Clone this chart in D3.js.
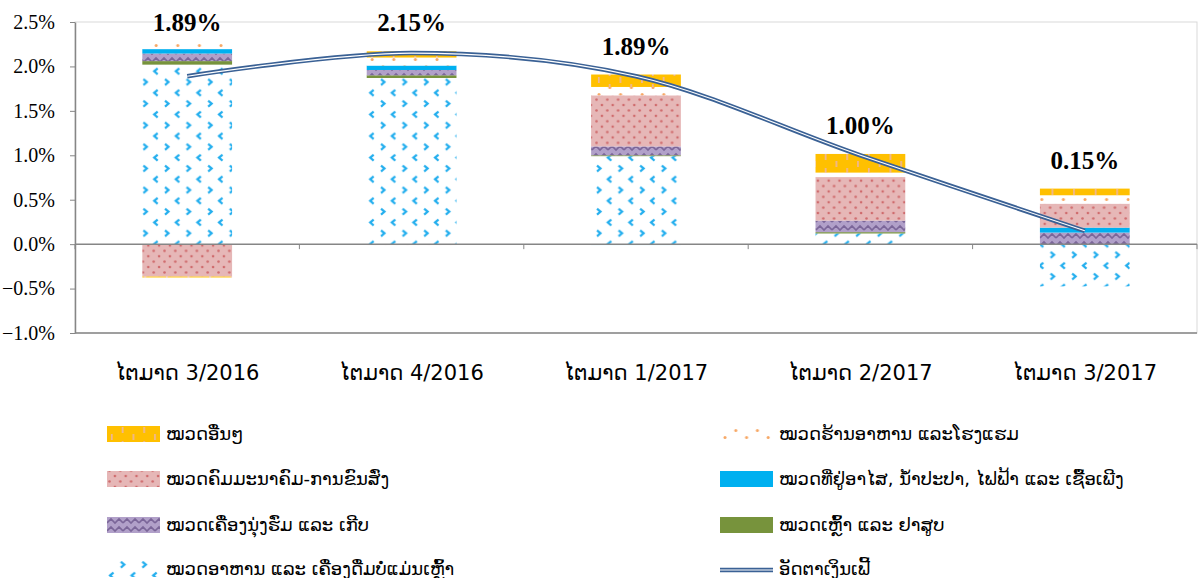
<!DOCTYPE html>
<html>
<head>
<meta charset="utf-8">
<script src="https://cdn.jsdelivr.net/npm/d3@7/dist/d3.min.js"></script>
<style>
body { margin: 0; background: #fff; }
svg { display: block; }
</style>
</head>
<body>
<script>
// ຂໍ້ມູນ (%), ອ່ານຈາກຮູບ
var quarters = ["ໄຕມາດ 3/2016", "ໄຕມາດ 4/2016", "ໄຕມາດ 1/2017", "ໄຕມາດ 2/2017", "ໄຕມາດ 3/2017"];
var food = [2.02, 1.87, 0.99, 0.12, -0.475];
var alcohol = [0.04, 0.03, 0.01, 0.015, 0.0];
var clothing = [0.085, 0.06, 0.10, 0.13, 0.13];
var housing = [0.05, 0.05, -0.01, 0.0, 0.056];
var transport = [-0.365, -0.01, 0.575, 0.49, 0.27];
var restaurants = [0.09, 0.09, 0.094, 0.05, 0.094];
var others = [-0.01, 0.07, 0.14, 0.21, 0.075];
var inflation = [1.89, 2.15, 1.89, 1.00, 0.15];
var yTicks = [-1.0, -0.5, 0.0, 0.5, 1.0, 1.5, 2.0, 2.5];

var seriesKeys = ["food", "alcohol", "clothing", "housing", "transport", "restaurants", "others"];
var seriesNames = {
	food: "ໝວດອາຫານ ແລະ ເຄື່ອງດື່ມບໍ່ແມ່ນເຫຼົ້າ",
	alcohol: "ໝວດເຫຼົ້າ ແລະ ຢາສູບ",
	clothing: "ໝວດເຄື່ອງນຸ່ງຮົ່ມ ແລະ ເກີບ",
	housing: "ໝວດທີ່ຢູ່ອາໄສ, ນ້ຳປະປາ, ໄຟຟ້າ ແລະ ເຊື້ອເພີງ",
	transport: "ໝວດຄົມມະນາຄົມ-ການຂົນສົ່ງ",
	restaurants: "ໝວດຮ້ານອາຫານ ແລະໂຮງແຮມ",
	others: "ໝວດອື່ນໆ"
};
var lineName = "ອັດຕາເງິນເຟີ້";
var series = { food: food, alcohol: alcohol, clothing: clothing, housing: housing,
	transport: transport, restaurants: restaurants, others: others };

var laoFont = "'DejaVu Sans', sans-serif";
var numFont = "'Liberation Serif', 'Times New Roman', serif";

var width = 1199, height = 578;
var plot = { left: 75, right: 1197, top: 22, bottom: 333 };

var svg = d3.select("body").append("svg")
	.attr("width", width)
	.attr("height", height);
svg.append("rect").attr("width", width).attr("height", height).attr("fill", "#fff");

// ລາຍແພັດເທີນ ຄືໃນ Excel
var defs = svg.append("defs");
function pattern(id, w, h, bg) {
	var p = defs.append("pattern").attr("id", id)
		.attr("patternUnits", "userSpaceOnUse")
		.attr("width", w).attr("height", h);
	p.append("rect").attr("width", w).attr("height", h).attr("fill", bg);
	return p;
}
var pFood = pattern("p-food", 21.6, 21.6, "#fff");
pFood.append("path").attr("d", "M6.5,3.5 L3,6.5 L6.5,9.5").attr("fill", "none")
	.attr("stroke", "#22AEEE").attr("stroke-width", 2.2);
pFood.append("path").attr("d", "M13.8,14.3 L17.3,17.3 L13.8,20.3").attr("fill", "none")
	.attr("stroke", "#22AEEE").attr("stroke-width", 2.2);

var pCloth = pattern("p-cloth", 16, 8, "#B1A0C9");
pCloth.append("path").attr("d", "M0,6 L4,2 L8,6 L12,2 L16,6").attr("fill", "none")
	.attr("stroke", "#7B6699").attr("stroke-width", 1.6);

var pTrans = pattern("p-trans", 10.8, 10.8, "#E6B7B7");
pTrans.append("circle").attr("cx", 2.5).attr("cy", 2.5).attr("r", 1.3).attr("fill", "#CF6A6C");
pTrans.append("circle").attr("cx", 7.9).attr("cy", 7.9).attr("r", 1.3).attr("fill", "#CF6A6C");

var pRest = pattern("p-rest", 21.6, 14, "#fff");
pRest.append("circle").attr("cx", 5).attr("cy", 3.5).attr("r", 1.5).attr("fill", "#F7A764");
pRest.append("circle").attr("cx", 15.8).attr("cy", 10.5).attr("r", 1.5).attr("fill", "#F7A764");

var pOther = pattern("p-other", 21.6, 14, "#FFC000");
pOther.append("rect").attr("x", 4).attr("y", 0).attr("width", 1.6).attr("height", 6).attr("fill", "#EDB5A4");
pOther.append("rect").attr("x", 14.8).attr("y", 7).attr("width", 1.6).attr("height", 6).attr("fill", "#EDB5A4");

var fills = {
	food: "url(#p-food)",
	alcohol: "#77933C",
	clothing: "url(#p-cloth)",
	housing: "#00B0F0",
	transport: "url(#p-trans)",
	restaurants: "url(#p-rest)",
	others: "url(#p-other)"
};

var x = d3.scaleBand().domain(quarters)
	.range([plot.left, plot.right])
	.paddingInner(0.6).paddingOuter(0.3);
var y = d3.scaleLinear().domain([-1, 2.5]).range([plot.bottom, plot.top]);

// ກອບຂອງພື້ນທີ່ກຣາຟ
svg.append("rect")
	.attr("x", plot.left).attr("y", plot.top)
	.attr("width", plot.right - plot.left).attr("height", plot.bottom - plot.top)
	.attr("fill", "none").attr("stroke", "#D9D9D9");

var yAxis = svg.append("g")
	.attr("transform", "translate(" + plot.left + ",0)")
	.call(d3.axisLeft(y).tickValues(yTicks).tickSize(5).tickSizeOuter(0)
		.tickFormat(function(d) { return d3.format(".1f")(d) + "%"; }));
yAxis.select(".domain").attr("stroke", "#868686").attr("stroke-width", 1.5);
yAxis.selectAll(".tick line").attr("stroke", "#868686");
yAxis.selectAll(".tick text").attr("x", -20)
	.style("font-family", numFont).style("font-size", "20px").attr("fill", "#000");
svg.append("line")
	.attr("x1", plot.left).attr("x2", plot.right)
	.attr("y1", plot.bottom).attr("y2", plot.bottom)
	.attr("stroke", "#868686").attr("stroke-width", 1.5);

// ແທ່ງ stacked (ບວກ ແລະ ລົບ ແຍກກັນ)
var rows = quarters.map(function(q, i) {
	var r = { q: q };
	seriesKeys.forEach(function(k) { r[k] = series[k][i]; });
	return r;
});
var stacked = d3.stack().keys(seriesKeys).offset(d3.stackOffsetDiverging)(rows);

svg.append("g").selectAll("g").data(stacked).enter().append("g")
	.attr("fill", function(s) { return fills[s.key]; })
	.selectAll("rect").data(function(s) { return s; }).enter().append("rect")
	.attr("x", function(d) { return x(d.data.q); })
	.attr("width", x.bandwidth())
	.attr("y", function(d) { return y(Math.max(d[0], d[1])); })
	.attr("height", function(d) { return Math.abs(y(d[0]) - y(d[1])); });

// ແກນ x ຢູ່ທີ່ 0
svg.append("line")
	.attr("x1", plot.left).attr("x2", plot.right)
	.attr("y1", y(0)).attr("y2", y(0))
	.attr("stroke", "#868686").attr("stroke-width", 1.5);
svg.append("g").selectAll("line").data(d3.range(quarters.length + 1)).enter().append("line")
	.attr("x1", function(i) { return plot.left + i * x.step(); })
	.attr("x2", function(i) { return plot.left + i * x.step(); })
	.attr("y1", y(0)).attr("y2", y(0) + 5)
	.attr("stroke", "#868686");

svg.append("g").selectAll("text").data(quarters).enter().append("text")
	.attr("x", function(q) { return x(q) + x.bandwidth() / 2; })
	.attr("y", 380)
	.attr("text-anchor", "middle")
	.style("font-family", laoFont).style("font-size", "21px")
	.text(function(q) { return q; });

// ເສັ້ນອັດຕາເງິນເຟີ້ (ເສັ້ນຄູ່)
var line = d3.line()
	.x(function(d, i) { return x(quarters[i]) + x.bandwidth() / 2; })
	.y(function(d) { return y(d); })
	.curve(d3.curveCardinal.tension(0));
svg.append("path").datum(inflation).attr("d", line)
	.attr("fill", "none").attr("stroke", "#3A6195").attr("stroke-width", 4.5);
svg.append("path").datum(inflation).attr("d", line)
	.attr("fill", "none").attr("stroke", "#fff").attr("stroke-width", 1.1);

// ປ້າຍຄ່າ
var tops = rows.map(function(r) {
	return d3.sum(seriesKeys, function(k) { return Math.max(0, r[k]); });
});
svg.append("g").selectAll("text").data(inflation).enter().append("text")
	.attr("x", function(d, i) { return x(quarters[i]) + x.bandwidth() / 2; })
	.attr("y", function(d, i) { return Math.max(31, y(Math.max(tops[i], d)) - 20); })
	.attr("text-anchor", "middle")
	.style("font-family", numFont).style("font-size", "25px").style("font-weight", "bold")
	.text(function(d) { return d3.format(".2f")(d) + "%"; });

// ຄຳອະທິບາຍ
var legendItems = [
	{ key: "others", col: 0, row: 0 },
	{ key: "restaurants", col: 1, row: 0 },
	{ key: "transport", col: 0, row: 1 },
	{ key: "housing", col: 1, row: 1 },
	{ key: "clothing", col: 0, row: 2 },
	{ key: "alcohol", col: 1, row: 2 },
	{ key: "food", col: 0, row: 3 },
	{ key: "line", col: 1, row: 3 }
];
var legendX = [107, 720], legendY = [434, 479, 525, 569];
var lg = svg.append("g").selectAll("g").data(legendItems).enter().append("g")
	.attr("transform", function(d) { return "translate(" + legendX[d.col] + "," + legendY[d.row] + ")"; });
lg.filter(function(d) { return d.key != "line"; }).append("rect")
	.attr("x", 0).attr("y", -8).attr("width", 53).attr("height", 16)
	.attr("fill", function(d) { return fills[d.key]; });
lg.filter(function(d) { return d.key == "line"; }).append("line")
	.attr("x1", 0).attr("x2", 53).attr("y1", 1).attr("y2", 1)
	.attr("stroke", "#3A6195").attr("stroke-width", 4.5);
lg.filter(function(d) { return d.key == "line"; }).append("line")
	.attr("x1", 0).attr("x2", 53).attr("y1", 1).attr("y2", 1)
	.attr("stroke", "#fff").attr("stroke-width", 1.1);
lg.append("text")
	.attr("x", 59).attr("y", 6)
	.style("font-family", laoFont).style("font-size", "18px")
	.text(function(d) { return d.key == "line" ? lineName : seriesNames[d.key]; });
</script>
</body>
</html>
